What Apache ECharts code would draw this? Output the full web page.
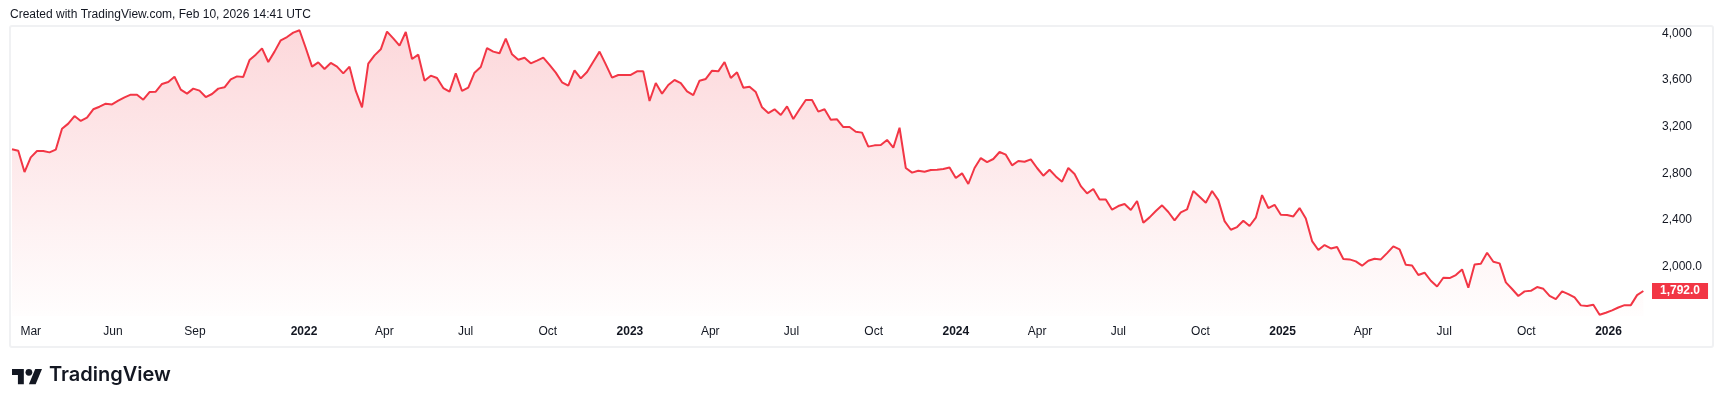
<!DOCTYPE html>
<html>
<head>
<meta charset="utf-8">
<script src="https://cdn.jsdelivr.net/npm/echarts@6/dist/echarts.min.js"></script>
<style>
html,body{margin:0;padding:0;background:#fff;}
#chart{width:1724px;height:407px;}
</style>
</head>
<body>
<div id="chart"></div>
<script>
// ---- data ----
const startDate = '2021-02-08';   // first weekly bar
const values = [
  3006, 2994, 2811, 2937, 2991, 2991, 2980, 3003, 3183, 3226,
  3291, 3249, 3277, 3349, 3371, 3397, 3391, 3423, 3451, 3474,
  3474, 3431, 3497, 3500, 3566, 3583, 3628, 3517, 3483, 3526,
  3509, 3454, 3480, 3526, 3537, 3606, 3631, 3626, 3771, 3817,
  3871, 3754, 3843, 3940, 3968, 4006, 4026, 3874, 3714, 3751,
  3694, 3746, 3714, 3657, 3714, 3506, 3366, 3740, 3811, 3863,
  4014, 3957, 3894, 4011, 3780, 3817, 3594, 3637, 3617, 3531,
  3500,
  3657, 3506, 3534, 3663, 3711, 3874, 3843, 3829, 3954, 3820,
  3774, 3791, 3743, 3766, 3791, 3729, 3663, 3580, 3551, 3683,
  3614, 3669, 3757, 3843, 3734, 3620, 3643, 3643, 3643, 3674,
  3674, 3420, 3574, 3483, 3557, 3600, 3574, 3503, 3471, 3594,
  3609, 3680, 3674, 3754, 3617, 3666, 3534, 3543, 3497, 3366,
  3317, 3349, 3300, 3374, 3266, 3349, 3429, 3429, 3329, 3349,
  3260, 3263, 3197, 3197,
  3157, 3149, 3029, 3040, 3043, 3086, 3020, 3191, 2846, 2806,
  2823, 2814, 2829, 2831, 2837, 2851, 2760, 2800, 2709, 2846,
  2931, 2897, 2923, 2983, 2960, 2869, 2906, 2900, 2920, 2846,
  2780, 2831, 2774, 2729, 2846, 2794, 2691, 2629, 2666, 2577,
  2577, 2489, 2520, 2537, 2486, 2563, 2377, 2423, 2477, 2526,
  2469, 2397, 2466, 2491, 2649, 2600, 2549, 2649, 2571, 2391,
  2317, 2340, 2394, 2349, 2420, 2614, 2503, 2531, 2446, 2443,
  2431, 2503,
  2414, 2220, 2143, 2186, 2157, 2169, 2066, 2063, 2046, 2009,
  2051, 2069, 2063, 2117, 2174, 2149, 2017, 2011, 1929, 1949,
  1880, 1831, 1906, 1903, 1929, 1977, 1820, 2020, 2026, 2120,
  2043, 2029, 1866, 1809, 1749, 1789, 1794, 1826, 1811, 1751,
  1723, 1789, 1766, 1737, 1669, 1663, 1674, 1589, 1606, 1626,
  1651, 1671, 1671, 1757, 1792
];
const xTickDates = [
  '2021-03-01','2021-06-01','2021-09-01',
  '2022-01-01','2022-04-01','2022-07-01','2022-10-01',
  '2023-01-01','2023-04-01','2023-07-01','2023-10-01',
  '2024-01-01','2024-04-01','2024-07-01','2024-10-01',
  '2025-01-01','2025-04-01','2025-07-01','2025-10-01',
  '2026-01-01'
];
const yTickValues = [2000, 2400, 2800, 3200, 3600, 4000];
const monthNames = ['Jan','Feb','Mar','Apr','May','Jun','Jul','Aug','Sep','Oct','Nov','Dec'];
const headerText = 'Created with TradingView.com, Feb 10, 2026 14:41 UTC';
const lastLabel = '1,792.0';

// ---- build ----
const DAY = 864e5;
const t0 = Date.parse(startDate + 'T00:00:00Z');
const seriesData = values.map((v, i) => [t0 + i * 7 * DAY, v]);
const lastValue = values[values.length - 1];
const RED = '#F23645';
const TXT = '#131722';
const FONT = '"Liberation Sans", Arial, sans-serif';

const chart = echarts.init(document.getElementById('chart'), null, {renderer: 'canvas'});
chart.setOption({
  animation: false,
  backgroundColor: '#ffffff',
  grid: {left: 10, top: 27, width: 1642, height: 289, containLabel: false, outerBoundsMode: 'none'},
  xAxis: {
    type: 'value',
    min: t0 - 2.24 * DAY,
    max: t0 + 1836.7 * DAY,
    axisLine: {show: false},
    axisTick: {show: false},
    splitLine: {show: false},
    axisLabel: {
      customValues: xTickDates.map(d => Date.parse(d + 'T00:00:00Z')),
      showMinLabel: true,
      showMaxLabel: true,
      hideOverlap: false,
      margin: 10,
      fontFamily: FONT,
      fontSize: 12,
      color: TXT,
      formatter: function (val) {
        const d = new Date(val);
        if (d.getUTCMonth() === 0) return '{y|' + d.getUTCFullYear() + '}';
        return monthNames[d.getUTCMonth()];
      },
      rich: {y: {fontWeight: 'bold', fontFamily: FONT, fontSize: 12, color: TXT}}
    }
  },
  yAxis: {
    type: 'value',
    position: 'right',
    min: 1578,
    max: 4054,
    axisLine: {show: false},
    axisTick: {show: false},
    splitLine: {show: false},
    axisLabel: {
      customValues: yTickValues,
      margin: 10,
      fontFamily: FONT,
      fontSize: 12,
      color: TXT,
      formatter: function (v) {
        const s = Number(v).toLocaleString('en-US');
        return Number(v) === 2000 ? s + '.0' : s;
      }
    }
  },
  series: [{
    type: 'line',
    data: seriesData,
    showSymbol: false,
    symbol: 'none',
    lineStyle: {color: RED, width: 2},
    itemStyle: {color: RED},
    areaStyle: {
      color: new echarts.graphic.LinearGradient(0, 0, 0, 1, [
        {offset: 0, color: 'rgba(242,54,69,0.28)'},
        {offset: 1, color: 'rgba(242,54,69,0.01)'}
      ])
    },
    markLine: {
      silent: true,
      symbol: ['none', 'none'],
      animation: false,
      lineStyle: {color: 'rgba(255,255,255,0)', width: 1, type: 'solid'},
      emphasis: {disabled: true},
      data: [{yAxis: lastValue, name: 'last'}],
      label: {
        show: true,
        position: 'end',
        distance: 0,
        formatter: lastLabel,
        backgroundColor: RED,
        color: '#ffffff',
        fontFamily: FONT,
        fontWeight: 'bold',
        fontSize: 12,
        lineHeight: 12,
        padding: [2, 8, 2, 8],
        opacity: 1
      }
    }
  }],
  graphic: [
    {type: 'rect', z: -1, silent: true,
     shape: {x: 10, y: 26, width: 1703, height: 321, r: 2},
     style: {fill: 'none', stroke: '#f0f1f3', lineWidth: 2}},
    {type: 'text', left: 10, top: 9, silent: true,
     style: {text: headerText, fill: TXT, font: '12px ' + FONT}},
    {type: 'group', x: 12, y: 365.6, scaleX: 0.845, scaleY: 0.845, silent: true, children: [
      {type: 'polygon', shape: {points: [[0,4],[14,4],[14,22],[7,22],[7,11],[0,11]]}, style: {fill: '#131722'}},
      {type: 'circle', shape: {cx: 20, cy: 8, r: 4}, style: {fill: '#131722'}},
      {type: 'polygon', shape: {points: [[20,22],[28,22],[35.5,4],[27.5,4]]}, style: {fill: '#131722'}}
    ]},
    {type: 'text', left: 49, top: 365, silent: true,
     style: {text: 'TradingView', fill: '#131722', font: '600 20px Inter, "Noto Sans", sans-serif'}}
  ]
});
</script>
</body>
</html>
